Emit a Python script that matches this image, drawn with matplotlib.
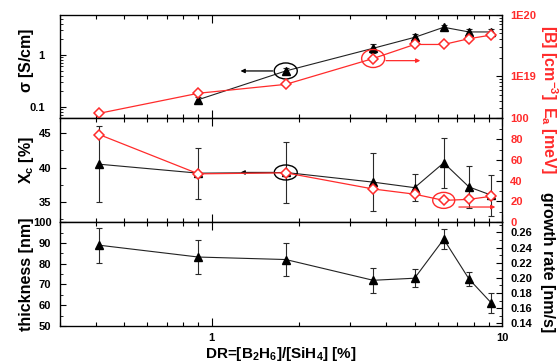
import math
import matplotlib
matplotlib.use("Agg")
import matplotlib.pyplot as plt
from matplotlib.patches import Ellipse
from matplotlib.transforms import ScaledTranslation
from matplotlib.ticker import FixedLocator, MultipleLocator, FuncFormatter, LogLocator, NullFormatter

plt.rcParams['font.family'] = ['Liberation Sans', 'DejaVu Sans']
plt.rcParams['mathtext.fontset'] = 'custom'
plt.rcParams['mathtext.rm'] = 'Liberation Sans'
plt.rcParams['mathtext.bf'] = 'Liberation Sans:bold'

RED = '#ff2b2b'

# data
dr = [0.41, 0.9, 1.8, 3.6, 5.0, 6.3, 7.7, 9.2]
dr_sigma = [0.9, 1.8, 3.6, 5.0, 6.3, 7.7, 9.2]
sigma = [0.136, 0.49, 1.35, 2.2, 3.45, 2.8, 2.8]
sigma_err = [0.015, 0.06, 0.25, 0.35, 0.45, 0.4, 0.35]
boron = [2.5e18, 5.3e18, 7.4e18, 1.95e19, 3.3e19, 3.3e19, 4.1e19, 4.7e19]
xc = [40.5, 39.2, 39.3, 37.9, 37.1, 40.7, 37.2, 36.0]
xc_err = [5.5, 3.7, 4.4, 4.2, 2.0, 3.6, 3.1, 3.0]
ea = [84.5, 46.6, 47.6, 32, 27, 21, 22, 25]
thick = [88.9, 83.2, 82.0, 72.0, 73.0, 91.8, 72.6, 61.0]
thick_err = [8.4, 8.0, 8.0, 6.0, 4.2, 4.7, 3.5, 4.7]

fig = plt.figure(figsize=(5.59, 3.63), dpi=100)
L, W = 0.107, 0.791
ax1 = fig.add_axes([L, 0.675, W, 0.284])
ax2 = fig.add_axes([L, 0.388, W, 0.287], sharex=ax1)
ax3 = fig.add_axes([L, 0.102, W, 0.286], sharex=ax1)

tick_kw = dict(direction='in', labelsize=8, width=0.8)
for ax in (ax1, ax2, ax3):
    ax.set_xscale('log')
    ax.set_xlim(0.3, 10)
    ax.tick_params(axis='x', which='both', top=True, **tick_kw)
    ax.tick_params(axis='x', which='major', length=6, pad=5)
    ax.tick_params(axis='x', which='minor', length=3)
    for s in ax.spines.values():
        s.set_linewidth(0.9)
for ax in (ax1, ax2):
    ax.tick_params(axis='x', labelbottom=False)

err_kw = dict(ecolor='#2a2a2a', elinewidth=0.8, capsize=2.5, capthick=0.8)
line_kw = dict(color='#222222', lw=0.8, marker='^', ms=5.5, mfc='black', mec='black')
red_kw = dict(color=RED, lw=0.9, marker='D', ms=5.5, mfc='white', mec=RED, mew=1.1)

# panel 1
ax1.errorbar(dr_sigma, sigma, yerr=sigma_err, **line_kw, **err_kw, zorder=3)
ax1.set_yscale('log')
ax1.set_ylim(0.06, 6)
ax1.yaxis.set_major_locator(FixedLocator([0.1, 1]))
ax1.yaxis.set_major_formatter(FuncFormatter(lambda v, p: '%g' % v))
ax1.yaxis.set_minor_locator(LogLocator(subs=range(2, 10)))
ax1.yaxis.set_minor_formatter(NullFormatter())
ax1b = ax1.twinx()
ax1b.plot(dr, boron, **red_kw, zorder=2)
ax1b.set_yscale('log')
ax1b.set_ylim(2.1e18, 1e20)
ax1b.yaxis.set_major_locator(FixedLocator([1e19, 1e20]))
ax1b.yaxis.set_major_formatter(FuncFormatter(lambda v, p: '1E%d' % round(math.log10(v))))
ax1b.yaxis.set_minor_locator(LogLocator(subs=range(2, 10)))
ax1b.yaxis.set_minor_formatter(NullFormatter())

# panel 2
ax2.errorbar(dr, xc, yerr=xc_err, **line_kw, **err_kw, zorder=3)
ax2.set_ylim(32.1, 47.2)
ax2.yaxis.set_major_locator(FixedLocator([35, 40, 45]))
ax2.yaxis.set_minor_locator(MultipleLocator(2.5))
ax2b = ax2.twinx()
ax2b.plot(dr, ea, **red_kw)
ax2b.set_ylim(0, 100.5)
ax2b.yaxis.set_major_locator(MultipleLocator(20))
ax2b.yaxis.set_minor_locator(MultipleLocator(10))

# panel 3
ax3.errorbar(dr, thick, yerr=thick_err, **line_kw, **err_kw, zorder=3)
ax3.set_ylim(50, 100)
ax3.yaxis.set_major_locator(MultipleLocator(10))
ax3.yaxis.set_minor_locator(MultipleLocator(5))
ax3.xaxis.set_major_formatter(FuncFormatter(lambda v, p: '%g' % v))
ax3.xaxis.set_minor_formatter(NullFormatter())
ax3b = ax3.twinx()
ax3b.set_ylim(0.1365, 0.2735)
ax3b.yaxis.set_major_locator(MultipleLocator(0.02))
ax3b.yaxis.set_minor_locator(MultipleLocator(0.01))
ax3b.yaxis.set_major_formatter(FuncFormatter(lambda v, p: '%.2f' % v))

for ax in (ax1, ax2, ax3, ax1b, ax2b, ax3b):
    ax.tick_params(axis='y', which='major', length=4, direction='in', labelsize=8, width=0.8, pad=6)
    ax.tick_params(axis='y', which='minor', length=2, direction='in', width=0.6)
    for lab in ax.get_yticklabels() + ax.get_xticklabels():
        lab.set_fontweight('bold')
ax1.tick_params(axis='y', which='major', pad=11)
for ax in (ax1b, ax2b):
    ax.tick_params(axis='y', which='both', labelcolor=RED)

# labels
lab_kw = dict(fontsize=11.5, fontweight='bold', rotation=90, ha='center', va='center')
fig.text(0.048, 1 - 60 / 363, r'$\mathbf{\sigma}$ [S/cm]', **lab_kw)
fig.text(0.048, 1 - 160 / 363, r'X$_\mathbf{c}$ [%]', **lab_kw)
fig.text(0.048, 1 - 274 / 363, 'thickness [nm]', **lab_kw)
rlab_kw = dict(fontsize=11.5, fontweight='bold', rotation=270, ha='center', va='center')
fig.text(0.982, 1 - 62 / 363, r'[B] [cm$^\mathbf{-3}$]', color=RED, **rlab_kw)
fig.text(0.981, 1 - 140 / 363, r'E$_\mathbf{a}$ [meV]', color=RED, **rlab_kw)
fig.text(0.980, 1 - 262 / 363, 'growth rate [nm/s]', **rlab_kw)
fig.text(0.503, 1 - 354 / 363, r'DR=[B$_\mathbf{2}$H$_\mathbf{6}$]/[SiH$_\mathbf{4}$] [%]',
         fontsize=11, fontweight='bold', ha='center', va='center')


def ring(ax, x, y, w, h, color):
    tr = fig.dpi_scale_trans + ScaledTranslation(x, y, ax.transData)
    ax.add_patch(Ellipse((0, 0), w, h, fill=False, ec=color, lw=1.0, transform=tr, zorder=5))


ring(ax1, dr[2], sigma[1], 0.23, 0.16, 'black')
ax1.annotate('', xy=(1.23, sigma[1]), xytext=(1.66, sigma[1]),
             arrowprops=dict(arrowstyle='-|>', color='black', lw=0.9, mutation_scale=6))
ring(ax1b, dr[3], boron[3], 0.23, 0.18, RED)
ax1b.annotate('', xy=(5.35, 1.8e19), xytext=(3.9, 1.8e19),
              arrowprops=dict(arrowstyle='-|>', color=RED, lw=0.9, mutation_scale=6))
ring(ax2, dr[2], xc[2], 0.23, 0.15, 'black')
ax2.annotate('', xy=(1.23, 39.3), xytext=(1.66, 39.3),
             arrowprops=dict(arrowstyle='-|>', color='black', lw=0.9, mutation_scale=6))
ring(ax2b, dr[5], ea[5], 0.22, 0.16, RED)
ax2b.annotate('', xy=(9.7, 14.6), xytext=(6.95, 14.6),
              arrowprops=dict(arrowstyle='-|>', color=RED, lw=0.9, mutation_scale=6))

fig.savefig('out.png', dpi=100)
